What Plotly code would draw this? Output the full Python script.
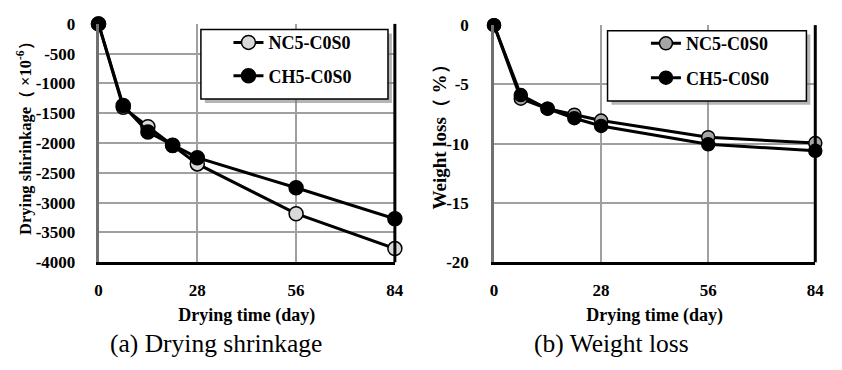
import plotly.graph_objects as go

W, H = 842, 370
days = [0, 7, 14, 21, 28, 56, 84]
shrink_nc5 = [0, -1400, -1725, -2040, -2350, -3185, -3770]
shrink_ch5 = [0, -1370, -1815, -2035, -2245, -2750, -3270]
wloss_nc5 = [0, -6.2, -7.05, -7.55, -8.05, -9.45, -9.95]
wloss_ch5 = [0, -5.9, -7.05, -7.85, -8.5, -10.05, -10.6]
xticks = [0, 28, 56, 84]
shrink_ticks = [0, -500, -1000, -1500, -2000, -2500, -3000, -3500, -4000]
shrink_ticktext = ["0", "-500", "-1000", "-1500", "-2000", "-2500", "-3000", "-3500", "-4000"]
wloss_ticks = [0, -5, -10, -15, -20]
wloss_ticktext = ["0", "-5", "-10", "-15", "-20"]
series_names = ["NC5-C0S0", "CH5-C0S0"]

FONT = "Liberation Serif"

def px_x(v):
    return v / W

def px_y(v):
    return 1 - v / H

fig = go.Figure()

fig.add_trace(go.Scatter(x=days, y=shrink_nc5, name="<b>%s</b>" % series_names[0], mode="lines+markers",
                         line=dict(color="black", width=3),
                         marker=dict(size=14, color="#d9d9d9", line=dict(color="black", width=1.5)),
                         xaxis="x", yaxis="y", legend="legend", legendgroup="a1", cliponaxis=False))
fig.add_trace(go.Scatter(x=days, y=shrink_ch5, name="<b>%s</b>" % series_names[1], mode="lines+markers",
                         line=dict(color="black", width=3),
                         marker=dict(size=14, color="black", line=dict(color="black", width=1.5)),
                         xaxis="x", yaxis="y", legend="legend", legendgroup="a2", cliponaxis=False))
fig.add_trace(go.Scatter(x=days, y=wloss_nc5, name="<b>%s</b>" % series_names[0], mode="lines+markers",
                         line=dict(color="black", width=3),
                         marker=dict(size=13, color="#a6a6a6", line=dict(color="black", width=1.5)),
                         xaxis="x2", yaxis="y2", legend="legend2", legendgroup="b1", cliponaxis=False))
fig.add_trace(go.Scatter(x=days, y=wloss_ch5, name="<b>%s</b>" % series_names[1], mode="lines+markers",
                         line=dict(color="black", width=3),
                         marker=dict(size=13, color="black", line=dict(color="black", width=1.5)),
                         xaxis="x2", yaxis="y2", legend="legend2", legendgroup="b2", cliponaxis=False))

tickfont = dict(family=FONT, size=17, color="black", weight="bold")
common_x = dict(range=[0, 84], tickvals=xticks, ticktext=[str(v) for v in xticks], showgrid=True,
                gridcolor="#a0a0a0", gridwidth=1.5,
                showline=True, linecolor="black", linewidth=3, tickfont=tickfont, ticks="",
                ticklabelstandoff=10, zeroline=False,
                title=dict(text="<b>Drying time (day)</b>", font=dict(family=FONT, size=18, color="black"),
                           standoff=10))
common_y = dict(showgrid=True, gridcolor="#a0a0a0", gridwidth=1.5, showline=True, linecolor="#707070",
                linewidth=2.5, tickfont=tickfont, ticks="", zeroline=False)

L = (96, 397, 15.7, 267)
R = (497.7, 824, 17, 267)

legfont = dict(family=FONT, size=18, color="black")
fig.update_layout(
    width=W, height=H, margin=dict(l=0, r=0, t=0, b=0),
    paper_bgcolor="white", plot_bgcolor="white",
    xaxis=dict(domain=[px_x(L[0]), px_x(L[1])], anchor="y", **common_x),
    yaxis=dict(domain=[px_y(L[3]), px_y(L[2])], anchor="x", range=[-4000, 0],
               tickvals=shrink_ticks, ticktext=shrink_ticktext, ticklabelstandoff=17, **common_y),
    xaxis2=dict(domain=[px_x(R[0]), px_x(R[1])], anchor="y2", **common_x),
    yaxis2=dict(domain=[px_y(R[3]), px_y(R[2])], anchor="x2", range=[-20, 0],
                tickvals=wloss_ticks, ticktext=wloss_ticktext, ticklabelstandoff=19, **common_y),
    legend=dict(x=px_x(228), y=px_y(16), xanchor="left", yanchor="top", bgcolor="rgba(0,0,0,0)",
                borderwidth=0, font=legfont, tracegroupgap=7, itemwidth=30),
    legend2=dict(x=px_x(652), y=px_y(17), xanchor="left", yanchor="top", bgcolor="rgba(0,0,0,0)",
                 borderwidth=0, font=legfont, tracegroupgap=8, itemwidth=30),
)

shapes = []
for (x0, x1, y0, y1) in (L, R):
    shapes.append(dict(type="line", xref="paper", yref="paper", x0=px_x(x1), x1=px_x(x1),
                       y0=px_y(y1), y1=px_y(y0), line=dict(color="black", width=3), layer="above"))
for bx0, by0, bx1, by1 in ((200, 21.7, 390, 95), (613, 23, 815, 97)):
    shapes.append(dict(type="rect", xref="paper", yref="paper", x0=px_x(bx0 + 4), x1=px_x(bx1 + 4),
                       y0=px_y(by1 + 4), y1=px_y(by0 + 4), fillcolor="rgba(120,120,120,0.55)",
                       line=dict(width=0), layer="above"))
    shapes.append(dict(type="rect", xref="paper", yref="paper", x0=px_x(bx0), x1=px_x(bx1),
                       y0=px_y(by1), y1=px_y(by0), fillcolor="white",
                       line=dict(color="black", width=1.5), layer="above"))
fig.update_layout(shapes=shapes)

ann = [
    dict(text="<b>Drying shirinkage（ ×10<sup>-6</sup>）</b>", x=px_x(21), y=px_y(132), textangle=-90,
         font=dict(family=FONT, size=16.5, color="black")),
    dict(text="<b>Weight loss（ %）</b>", x=px_x(442), y=px_y(130), textangle=-90,
         font=dict(family=FONT, size=19, color="black")),
    dict(text="(a) Drying shrinkage", x=px_x(215), y=px_y(353),
         font=dict(family=FONT, size=25.5, color="black")),
    dict(text="(b) Weight loss", x=px_x(617), y=px_y(353),
         font=dict(family=FONT, size=25.5, color="black")),
]
for a in ann:
    a.update(xref="paper", yref="paper", showarrow=False, xanchor="center", yanchor="middle")
fig.update_layout(annotations=ann)

fig.write_html("out.html")
